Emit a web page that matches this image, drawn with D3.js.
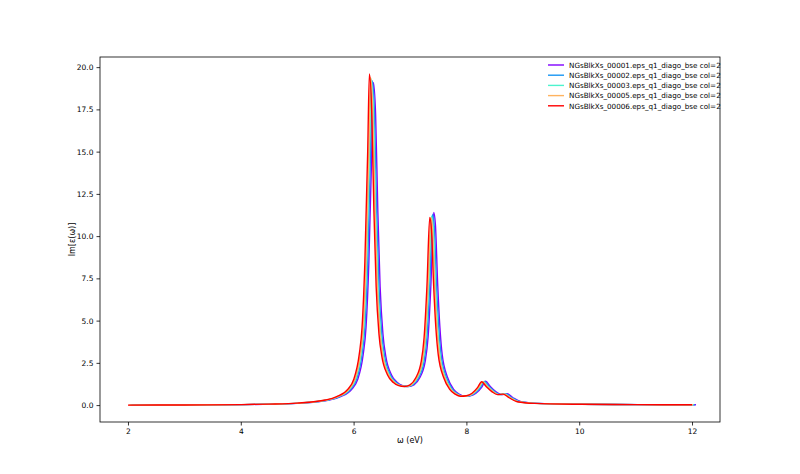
<!DOCTYPE html>
<html>
<head>
<meta charset="utf-8">
<script src="https://cdn.jsdelivr.net/npm/d3@7"></script>
<style>
  body { margin: 0; background: #fff; }
  text { font-family: "DejaVu Sans", sans-serif; }
</style>
</head>
<body>
<svg id="chart" width="800" height="474"></svg>
<script>
// values
const labels = [
  'NGsBlkXs_00001.eps_q1_diago_bse col=2',
  'NGsBlkXs_00002.eps_q1_diago_bse col=2',
  'NGsBlkXs_00003.eps_q1_diago_bse col=2',
  'NGsBlkXs_00005.eps_q1_diago_bse col=2',
  'NGsBlkXs_00006.eps_q1_diago_bse col=2'
];
const colors = ['#8000ff', '#1996f3', '#4df3ce', '#ffb360', '#ff0000'];
const shifts = [0.07, 0.05, 0.03, 0.02, 0.0];
const omega = [2.0, 3.0, 4.0, 4.5, 5.0, 5.5, 5.7, 5.9, 6.0, 6.1, 6.15, 6.2, 6.25, 6.28, 6.32, 6.36, 6.4, 6.45, 6.5, 6.6, 6.7, 6.8, 6.9, 7.0, 7.1, 7.2, 7.25, 7.3, 7.35, 7.38, 7.42, 7.46, 7.5, 7.6, 7.7, 7.8, 7.9, 8.0, 8.1, 8.2, 8.27, 8.35, 8.45, 8.55, 8.65, 8.75, 8.9, 9.2, 10.0, 11.0, 12.0];
const im1 = [0.0, 0.01, 0.03, 0.06, 0.12, 0.3, 0.5, 0.95, 1.5, 3.0, 4.6, 8.4, 14.8, 19.1, 17.2, 11.4, 7.0, 4.2, 2.9, 1.8, 1.35, 1.15, 1.1, 1.2, 1.6, 2.6, 4.0, 7.1, 11.4, 10.7, 7.2, 4.6, 3.0, 1.6, 0.95, 0.65, 0.52, 0.55, 0.7, 1.05, 1.42, 1.12, 0.8, 0.62, 0.67, 0.45, 0.2, 0.1, 0.05, 0.03, 0.02];
const im2 = [0.0, 0.01, 0.03, 0.06, 0.12, 0.3, 0.5, 0.95, 1.5, 3.0, 4.6, 8.4, 14.9, 19.2, 17.3, 11.4, 7.0, 4.2, 2.9, 1.8, 1.35, 1.15, 1.1, 1.2, 1.6, 2.6, 4.0, 7.1, 11.3, 10.6, 7.1, 4.6, 3.0, 1.6, 0.95, 0.65, 0.52, 0.55, 0.7, 1.05, 1.4, 1.11, 0.8, 0.62, 0.66, 0.45, 0.2, 0.1, 0.05, 0.03, 0.02];
const im3 = [0.0, 0.01, 0.03, 0.06, 0.12, 0.3, 0.5, 0.95, 1.5, 3.0, 4.6, 8.4, 14.9, 19.3, 17.4, 11.4, 7.0, 4.2, 2.9, 1.8, 1.35, 1.15, 1.1, 1.2, 1.6, 2.6, 4.0, 7.0, 11.2, 10.5, 7.1, 4.5, 3.0, 1.6, 0.95, 0.65, 0.52, 0.55, 0.7, 1.05, 1.39, 1.1, 0.8, 0.62, 0.66, 0.45, 0.2, 0.1, 0.05, 0.03, 0.02];
const im5 = [0.0, 0.01, 0.03, 0.06, 0.12, 0.3, 0.5, 0.95, 1.5, 3.0, 4.6, 8.5, 15.0, 19.4, 17.4, 11.5, 7.0, 4.2, 2.9, 1.8, 1.35, 1.15, 1.1, 1.2, 1.6, 2.6, 4.0, 7.0, 11.1, 10.4, 7.0, 4.5, 3.0, 1.6, 0.95, 0.65, 0.52, 0.55, 0.7, 1.05, 1.38, 1.1, 0.8, 0.62, 0.65, 0.45, 0.2, 0.1, 0.05, 0.03, 0.02];
const im6 = [0.0, 0.01, 0.03, 0.06, 0.12, 0.3, 0.5, 0.95, 1.5, 3.0, 4.6, 8.5, 15.0, 19.6, 17.5, 11.5, 7.0, 4.2, 2.9, 1.8, 1.35, 1.15, 1.1, 1.2, 1.6, 2.6, 4.0, 7.0, 11.1, 10.4, 7.0, 4.5, 3.0, 1.6, 0.95, 0.65, 0.52, 0.55, 0.7, 1.05, 1.38, 1.1, 0.8, 0.62, 0.65, 0.45, 0.2, 0.1, 0.05, 0.03, 0.02];
const series = [im1, im2, im3, im5, im6];
const xTicks = [2, 4, 6, 8, 10, 12];
const yTicks = [0, 2.5, 5, 7.5, 10, 12.5, 15, 17.5, 20];

const svg = d3.select('#chart');
const mLeft = 100, mRight = 720, mTop = 57, mBottom = 422;

const x = d3.scaleLinear().domain([1.504, 12.496]).range([mLeft, mRight]);
const y = d3.scaleLinear().domain([-1.0, 20.6]).range([mBottom, mTop]);

const xAxis = svg.append('g')
  .attr('transform', `translate(0,${mBottom})`)
  .call(d3.axisBottom(x).tickValues(xTicks).tickFormat(d3.format('d')).tickSize(3.5).tickPadding(3));
const yAxis = svg.append('g')
  .attr('transform', `translate(${mLeft},0)`)
  .call(d3.axisLeft(y).tickValues(yTicks).tickFormat(d3.format('.1f')).tickSize(3.5).tickPadding(3));
[xAxis, yAxis].forEach(a => {
  a.select('.domain').remove();
  a.selectAll('text').attr('font-size', 7.5).attr('fill', '#000')
    .style('font-family', '"DejaVu Sans", sans-serif');
  a.selectAll('line').attr('stroke', '#000').attr('stroke-width', 0.8);
});

svg.append('rect')
  .attr('x', mLeft).attr('y', mTop)
  .attr('width', mRight - mLeft).attr('height', mBottom - mTop)
  .attr('fill', 'none').attr('stroke', '#000').attr('stroke-width', 0.8);

const line = d3.line().curve(d3.curveMonotoneX);
const g = svg.append('g');
series.forEach((s, i) => {
  g.append('path')
    .attr('d', line(s.map((v, j) => [x(omega[j] + shifts[i]), y(v)])))
    .attr('fill', 'none')
    .attr('stroke', colors[i])
    .attr('stroke-width', 1.4);
});

svg.append('text').attr('x', (mLeft + mRight) / 2).attr('y', 443)
  .attr('text-anchor', 'middle').attr('font-size', 8).text('ω (eV)');
svg.append('text').attr('transform', `translate(75,${(mTop + mBottom) / 2}) rotate(-90)`)
  .attr('text-anchor', 'middle').attr('font-size', 8).text('Im[ε(ω)]');

const legend = svg.append('g');
labels.forEach((l, i) => {
  const ly = 65 + i * 10.2;
  legend.append('line').attr('x1', 548).attr('x2', 564).attr('y1', ly).attr('y2', ly)
    .attr('stroke', colors[i]).attr('stroke-width', 1.4);
  legend.append('text').attr('x', 569).attr('y', ly + 2.7).attr('font-size', 7.2).text(l);
});
</script>
</body>
</html>
